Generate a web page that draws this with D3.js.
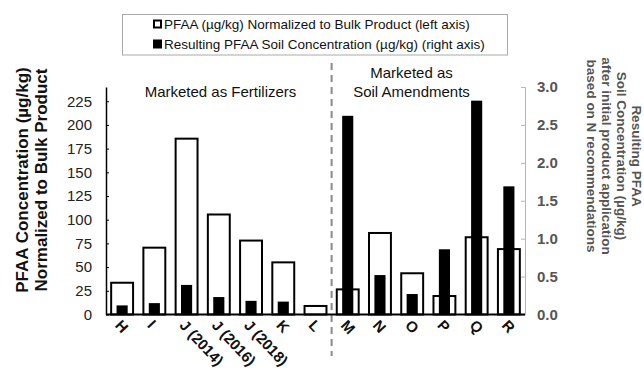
<!DOCTYPE html>
<html>
<head>
<meta charset="utf-8">
<script src="https://cdn.jsdelivr.net/npm/d3@7/dist/d3.min.js"></script>
<style>
  html, body { margin: 0; padding: 0; background: #fff; }
  svg { display: block; font-family: "Liberation Sans", Arial, sans-serif; }
</style>
</head>
<body>
<svg id="chart" width="644" height="372"></svg>
<script>
// Products (x categories)
const categories = ["H", "I", "J (2014)", "J (2016)", "J (2018)", "K", "L",
                    "M", "N", "O", "P", "Q", "R"];
// PFAA normalized to bulk product, µg/kg (left axis)
const bulkPFAA = [33.5, 70.5, 185.5, 105.5, 78, 55, 9,
                  26.5, 86, 43.5, 19.5, 81.5, 69];
// Resulting PFAA soil concentration, µg/kg (right axis); L has none
const soilPFAA = [0.12, 0.15, 0.39, 0.23, 0.18, 0.17, null,
                  2.62, 0.52, 0.27, 0.86, 2.82, 1.69];
const leftTicks = [0, 25, 50, 75, 100, 125, 150, 175, 200, 225];
const rightTicks = [0, 0.5, 1.0, 1.5, 2.0, 2.5, 3.0];

const svg = d3.select("#chart");

const plotLeft = 106, plotRight = 525, plotTop = 87, plotBottom = 314.5;

const x = d3.scaleBand().domain(categories).range([plotLeft, plotRight]).padding(0);
const yL = d3.scaleLinear().domain([0, 240]).range([plotBottom, plotTop]);
const yR = d3.scaleLinear().domain([0, 3]).range([plotBottom, plotTop]);

const bw = x.bandwidth();
const whiteW = bw * 0.68, blackW = bw * 0.345;

// Divider between fertilizers and soil amendments
const divX = (x("L") + bw + x("M")) / 2;
svg.append("line")
  .attr("x1", divX).attr("x2", divX)
  .attr("y1", 63).attr("y2", 356)
  .attr("stroke", "#8a8a8a").attr("stroke-width", 2)
  .attr("stroke-dasharray", "7,5");

// Group headings
svg.append("text").attr("x", 220.5).attr("y", 97)
  .attr("text-anchor", "middle").attr("font-size", 15).attr("fill", "#111")
  .text("Marketed as Fertilizers");
svg.append("text").attr("x", 411.5).attr("y", 78)
  .attr("text-anchor", "middle").attr("font-size", 15).attr("fill", "#111")
  .text("Marketed as");
svg.append("text").attr("x", 411.5).attr("y", 97)
  .attr("text-anchor", "middle").attr("font-size", 15).attr("fill", "#111")
  .text("Soil Amendments");

// Open bars: bulk product concentration
svg.append("g").selectAll("rect")
  .data(categories.map((c, i) => ({ c, v: bulkPFAA[i] })))
  .join("rect")
  .attr("x", d => x(d.c) + (bw - whiteW) / 2)
  .attr("width", whiteW)
  .attr("y", d => yL(d.v))
  .attr("height", d => yL(0) - yL(d.v))
  .attr("fill", "#fff").attr("stroke", "#000").attr("stroke-width", 2);

// Solid bars: resulting soil concentration
svg.append("g").selectAll("rect")
  .data(categories.map((c, i) => ({ c, v: soilPFAA[i] })).filter(d => d.v != null))
  .join("rect")
  .attr("x", d => x(d.c) + (bw - blackW) / 2)
  .attr("width", blackW)
  .attr("y", d => yR(d.v))
  .attr("height", d => yR(0) - yR(d.v))
  .attr("fill", "#000");

// Left axis
const leftAxis = svg.append("g").attr("transform", `translate(${plotLeft},0)`)
  .call(d3.axisLeft(yL).tickValues(leftTicks).tickSizeInner(-3).tickSizeOuter(0).tickPadding(14));
leftAxis.select(".domain").attr("stroke", "#000").attr("stroke-width", 1.5);
leftAxis.selectAll(".tick line").attr("stroke", "#000").attr("stroke-width", 1);
leftAxis.selectAll(".tick text").attr("font-size", 15).attr("fill", "#222")
  .attr("font-family", "Liberation Sans, Arial, sans-serif");

// Right axis
const rightAxis = svg.append("g").attr("transform", `translate(${plotRight},0)`)
  .call(d3.axisRight(yR).tickValues(rightTicks).tickFormat(d3.format(".1f"))
        .tickSizeInner(-4).tickSizeOuter(-4).tickPadding(12));
rightAxis.select(".domain").attr("stroke", "#b5b5b5").attr("stroke-width", 1);
rightAxis.selectAll(".tick line").attr("stroke", "#b5b5b5").attr("stroke-width", 1);
rightAxis.selectAll(".tick text").attr("font-size", 15).attr("font-weight", "bold")
  .attr("fill", "#555").attr("font-family", "Liberation Sans, Arial, sans-serif");

// Baseline
svg.append("line").attr("x1", plotLeft).attr("x2", plotRight)
  .attr("y1", yL(0)).attr("y2", yL(0))
  .attr("stroke", "#000").attr("stroke-width", 2);

// Category labels, slanted
svg.append("g").selectAll("text")
  .data(categories)
  .join("text")
  .attr("transform", d => `translate(${x(d) + bw / 2 - 4},${plotBottom + 8}) rotate(47)`)
  .attr("dy", "0.35em")
  .attr("font-size", 15).attr("font-weight", "bold").attr("fill", "#111")
  .text(d => d);

// Left axis title
const lt = svg.append("text")
  .attr("transform", "translate(0,180) rotate(-90)")
  .attr("text-anchor", "middle").attr("font-size", 17).attr("font-weight", "bold")
  .attr("fill", "#111");
lt.append("tspan").attr("x", 0).attr("y", 28).text("PFAA Concentration (µg/kg)");
lt.append("tspan").attr("x", 0).attr("y", 47).text("Normalized to Bulk Product");

// Right axis title
const rightTitle = ["Resulting PFAA", "Soil Concentration (µg/kg)",
                    "after initial product application", "based on N recommendations"];
const rt = svg.append("text")
  .attr("transform", "translate(0,156) rotate(90)")
  .attr("text-anchor", "middle").attr("font-size", 13.5).attr("font-weight", "bold")
  .attr("fill", "#555");
rightTitle.forEach((t, i) => {
  rt.append("tspan").attr("x", 0).attr("y", -632 + i * 15).text(t);
});

// Legend
const lg = svg.append("g");
lg.append("rect").attr("x", 122.5).attr("y", 14.5).attr("width", 385).attr("height", 40.5)
  .attr("fill", "#fff").attr("stroke", "#aaa").attr("stroke-width", 1);
lg.append("rect").attr("x", 154).attr("y", 20.5).attr("width", 7).attr("height", 7)
  .attr("fill", "#fff").attr("stroke", "#000").attr("stroke-width", 2);
lg.append("rect").attr("x", 153).attr("y", 39.5).attr("width", 9).attr("height", 9)
  .attr("fill", "#000");
lg.append("text").attr("x", 164).attr("y", 29).attr("font-size", 13.5).attr("fill", "#111")
  .text("PFAA (µg/kg) Normalized to Bulk Product (left axis)");
lg.append("text").attr("x", 164).attr("y", 49).attr("font-size", 13.5).attr("fill", "#111")
  .text("Resulting PFAA Soil Concentration (µg/kg) (right axis)");
</script>
</body>
</html>
